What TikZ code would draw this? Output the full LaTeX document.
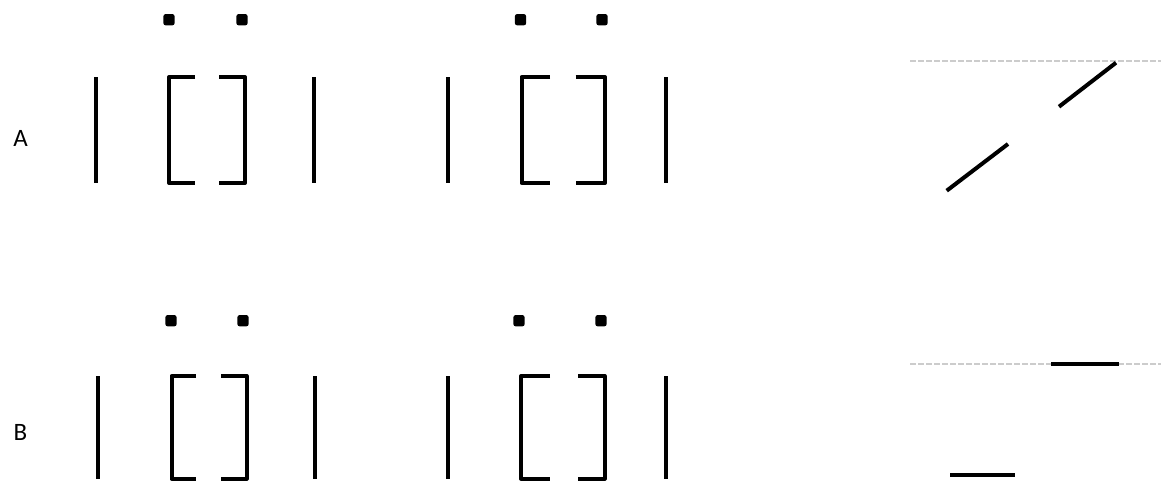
\documentclass[tikz,border=0pt]{standalone}
\usepackage{fontspec}
\setmainfont{Carlito}
\begin{document}
\begin{tikzpicture}[x=1pt,y=-1pt,
  bar/.style={line width=4pt},
  brk/.style={line width=4pt,line join=round},
  dotmark/.style={fill=black,rounded corners=2.5pt},
  guide/.style={draw=black!20,line width=2pt,dash pattern=on 6pt off 2pt},
  seg/.style={line width=4pt},
  lbl/.style={font=\fontsize{25}{29}\selectfont,inner sep=0pt}]
\useasboundingbox (0,0) rectangle (1161,480);
\clip (0,0) rectangle (1161,480);
% labels
\node[lbl] (la) at (20.5,138) {A};
\node[lbl] (lb) at (20.5,432) {B};
% row A, group 1
\draw[bar] (96,77) -- (96,183);
\draw[brk] (195,77) -- (169,77) -- (169,183) -- (195,183);
\draw[brk] (219,77) -- (245,77) -- (245,183) -- (219,183);
\draw[bar] (314,77) -- (314,183);
\fill[dotmark] (163.3,14) rectangle (174.7,25.4);
\fill[dotmark] (236.3,14) rectangle (247.7,25.4);
% row A, group 2
\draw[bar] (447.5,77) -- (447.5,183);
\draw[brk] (550,77) -- (521.5,77) -- (521.5,183) -- (550,183);
\draw[brk] (575.5,77) -- (605,77) -- (605,183) -- (575.5,183);
\draw[bar] (665.5,77) -- (665.5,183);
\fill[dotmark] (514.8,14) rectangle (526.2,25.4);
\fill[dotmark] (596.3,14) rectangle (607.7,25.4);
% row B, group 1
\draw[bar] (97.5,376) -- (97.5,478.5);
\draw[brk] (196,376) -- (171.5,376) -- (171.5,478.5) -- (196,478.5);
\draw[brk] (221,376) -- (246.5,376) -- (246.5,478.5) -- (221,478.5);
\draw[bar] (315,376) -- (315,478.5);
\fill[dotmark] (165.3,315) rectangle (176.7,326.4);
\fill[dotmark] (237.3,315) rectangle (248.7,326.4);
% row B, group 2
\draw[bar] (448,376) -- (448,478.5);
\draw[brk] (550,376) -- (521,376) -- (521,478.5) -- (550,478.5);
\draw[brk] (578,376) -- (604.5,376) -- (604.5,478.5) -- (578,478.5);
\draw[bar] (666,376) -- (666,478.5);
\fill[dotmark] (513.3,315) rectangle (524.7,326.4);
\fill[dotmark] (595.3,315) rectangle (606.7,326.4);
% right panel A
\coordinate (ga1) at (910,61);
\coordinate (ga2) at (1161,61);
\draw[guide] (ga1) -- (ga2);
\coordinate (a1) at (946.7,190.7);
\coordinate (a2) at (1008,144);
\coordinate (a3) at (1059,106.7);
\coordinate (a4) at (1116,62.7);
\draw[seg] (a1) -- (a2);
\draw[seg] (a3) -- (a4);
% right panel B
\coordinate (gb1) at (910,364);
\coordinate (gb2) at (1161,364);
\draw[guide] (gb1) -- (gb2);
\coordinate (b1) at (1051,364);
\coordinate (b2) at (1118.7,364);
\coordinate (b3) at (950,475.3);
\coordinate (b4) at (1015.3,475.3);
\draw[seg] (b1) -- (b2);
\draw[seg] (b3) -- (b4);
\end{tikzpicture}
\end{document}
